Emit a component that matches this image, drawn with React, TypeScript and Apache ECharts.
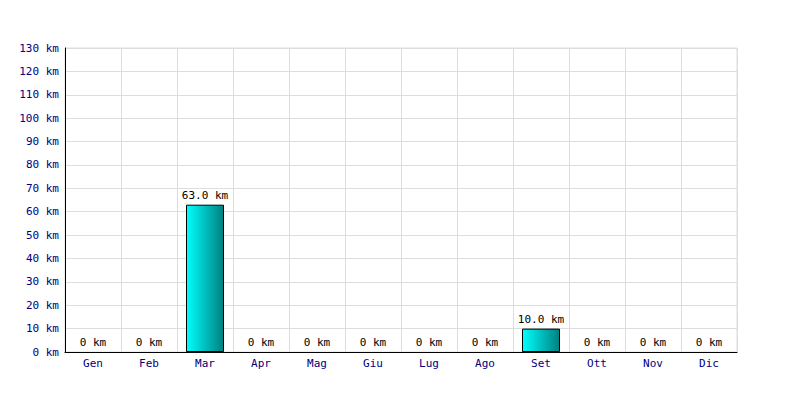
import React, { useEffect, useRef } from "react";
import * as echarts from "echarts";

const months = ["Gen", "Feb", "Mar", "Apr", "Mag", "Giu", "Lug", "Ago", "Set", "Ott", "Nov", "Dic"];
const distances = [0, 0, 63, 0, 0, 0, 0, 0, 10, 0, 0, 0];
const yMin = 0;
const yMax = 130;
const yStep = 10;

const FONT = "'DejaVu Sans Mono', 'Liberation Mono', monospace";

export default function App() {
  const ref = useRef<HTMLDivElement>(null);
  useEffect(() => {
    if (!ref.current) return;
    const chart = echarts.init(ref.current, undefined, { renderer: "svg" });
    const barData = distances.map((v) =>
      v === 0
        ? { value: v, itemStyle: { borderWidth: 0, borderColor: "transparent", color: "transparent" } }
        : { value: v }
    );
    chart.setOption({
      animation: false,
      backgroundColor: "#ffffff",
      grid: {
        left: 65,
        right: 63,
        top: 48,
        bottom: 48,
        show: true,
        borderColor: "#dddddd",
        borderWidth: 1,
      },
      xAxis: {
        type: "category",
        data: months,
        boundaryGap: true,
        axisLine: { show: true, lineStyle: { color: "#000000", width: 1 } },
        axisTick: { show: false },
        splitLine: { show: true, lineStyle: { color: "#dddddd", width: 1 } },
        axisLabel: { color: "#000080", fontFamily: FONT, fontSize: 11, margin: 6 },
      },
      yAxis: {
        type: "value",
        min: yMin,
        max: yMax,
        interval: yStep,
        axisLine: { show: true, lineStyle: { color: "#000000", width: 1 } },
        axisTick: { show: false },
        splitLine: { show: true, lineStyle: { color: "#dddddd", width: 1 } },
        axisLabel: {
          color: "#000080",
          fontFamily: FONT,
          fontSize: 11,
          margin: 6,
          formatter: (v: number) => `${v} km`,
        },
      },
      series: [
        {
          type: "bar",
          data: barData,
          barWidth: 38,
          itemStyle: {
            color: new echarts.graphic.LinearGradient(0, 0, 1, 0, [
              { offset: 0, color: "#00ffff" },
              { offset: 1, color: "#008080" },
            ]),
            borderColor: "#000000",
            borderWidth: 1,
          },
          label: {
            show: true,
            position: "top",
            distance: 4,
            color: "#000000",
            textBorderWidth: 0,
            textBorderColor: "transparent",
            fontFamily: FONT,
            fontSize: 11,
            formatter: (p: any) => (p.value === 0 ? "0 km" : `${Number(p.value).toFixed(1)} km`),
          },
        },
      ],
    });
    return () => chart.dispose();
  }, []);
  return (
    <div
      ref={ref}
      style={{ position: "fixed", left: 0, top: 0, width: 800, height: 400, background: "#fff" }}
    />
  );
}
